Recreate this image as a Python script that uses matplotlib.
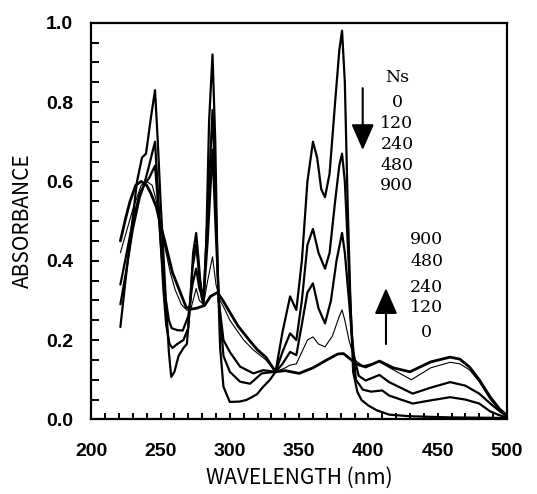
import matplotlib
matplotlib.use('Agg')
import matplotlib.pyplot as plt
from matplotlib.ticker import MultipleLocator

# irradiation times (s)
times = [0, 120, 240, 480, 900]

# spectra: wavelength (nm) / absorbance
wl_0 = [221, 225, 229, 233, 236.6, 239.5, 243, 246, 248, 250, 252, 254, 256, 257.7, 260, 263,
        266.5, 269, 271.5, 273.5, 275.7, 277.5, 279.5, 281, 283, 285, 287.5, 289.5, 291, 293,
        295.4, 300, 307, 312, 319.5, 324, 329, 333, 338, 343.5, 348, 352, 356, 360, 363, 366,
        368.7, 372, 376, 379, 381, 383, 385, 387, 389, 392, 395, 400, 406, 415, 430, 460, 490, 500]
abs_0 = [0.233, 0.36, 0.48, 0.60, 0.66, 0.67, 0.76, 0.83, 0.70, 0.55, 0.42, 0.29, 0.17, 0.107, 0.12, 0.16,
         0.18, 0.19, 0.30, 0.42, 0.47, 0.40, 0.31, 0.29, 0.45, 0.75, 0.92, 0.70, 0.40, 0.18,
         0.082, 0.044, 0.045, 0.049, 0.063, 0.082, 0.10, 0.12, 0.22, 0.31, 0.276, 0.40, 0.60, 0.70, 0.66, 0.58,
         0.56, 0.62, 0.80, 0.93, 0.98, 0.85, 0.55, 0.30, 0.12, 0.07, 0.049, 0.035, 0.023, 0.012, 0.008, 0.005, 0.004, 0.003]

wl_120 = [221, 225, 230, 235, 238, 241, 246, 248, 250, 252, 254, 256.5, 258.6, 262, 266.5, 270,
          273, 275.7, 278, 281, 284, 287.5, 289.5, 292, 295.4, 300, 307.4, 314.6, 323, 333, 338,
          343.5, 348, 352, 356, 360, 364, 368.7, 372, 376, 379, 381, 383, 385, 388, 391, 396, 402,
          410, 415, 432, 445, 459, 470, 480, 488, 495, 500]
abs_120 = [0.29, 0.37, 0.48, 0.56, 0.59, 0.63, 0.70, 0.58, 0.45, 0.33, 0.24, 0.19, 0.18, 0.19, 0.20, 0.23,
           0.38, 0.44, 0.36, 0.30, 0.52, 0.78, 0.58, 0.30, 0.16, 0.12, 0.095, 0.09, 0.116, 0.12, 0.17,
           0.217, 0.20, 0.30, 0.44, 0.48, 0.42, 0.38, 0.42, 0.55, 0.64, 0.67, 0.60, 0.45, 0.22, 0.10, 0.075, 0.07,
           0.073, 0.06, 0.04, 0.048, 0.056, 0.05, 0.04, 0.02, 0.01, 0.005]

wl_240 = [221, 225, 230, 235, 238, 242, 246, 248, 250, 253, 256, 258, 262, 266, 270, 273, 275.7,
          278, 281, 284, 287.5, 289.5, 292, 295.4, 300, 307.4, 317, 324, 333, 338, 343.5, 348, 352,
          356, 360, 364, 368.7, 373, 377, 381, 383, 386, 389, 393, 398, 408, 415, 432, 445, 459,
          470, 480, 488, 495, 500]
abs_240 = [0.34, 0.41, 0.50, 0.57, 0.59, 0.61, 0.64, 0.55, 0.45, 0.32, 0.25, 0.23, 0.225, 0.224, 0.26, 0.34, 0.38,
           0.33, 0.30, 0.45, 0.68, 0.50, 0.30, 0.20, 0.17, 0.133, 0.116, 0.124, 0.12, 0.14, 0.17, 0.162, 0.24,
           0.32, 0.343, 0.28, 0.242, 0.30, 0.40, 0.47, 0.42, 0.30, 0.17, 0.11, 0.098, 0.112, 0.094, 0.065, 0.08, 0.094,
           0.085, 0.065, 0.04, 0.02, 0.008]

wl_480 = [221, 230, 236, 240, 244, 247, 250, 253.4, 257, 260.6, 265, 269, 272, 275.7, 278, 281, 284,
          287.5, 290, 293, 296, 300, 310, 317, 326, 333, 340, 343.5, 348, 352, 356, 360, 364, 368.7,
          374, 379, 381, 383, 386, 390, 396, 408, 418, 431, 445, 459, 466, 473, 480, 488, 495, 500]
abs_480 = [0.42, 0.53, 0.59, 0.60, 0.59, 0.55, 0.49, 0.43, 0.37, 0.326, 0.29, 0.275, 0.28, 0.33, 0.30, 0.29, 0.35,
           0.41, 0.34, 0.30, 0.28, 0.25, 0.20, 0.175, 0.15, 0.12, 0.13, 0.137, 0.14, 0.17, 0.20, 0.208, 0.19, 0.183,
           0.21, 0.26, 0.276, 0.25, 0.20, 0.15, 0.135, 0.145, 0.125, 0.10, 0.13, 0.144, 0.14, 0.125, 0.095, 0.05, 0.022, 0.01]

wl_900 = [221, 225, 228, 232, 236, 240, 243, 247, 250, 253, 258.6, 262, 268.4, 272, 275.7, 281.7, 286,
          291, 295, 300, 306, 314, 320, 326, 333, 340, 350, 360, 370, 378, 382, 386, 391, 398, 408,
          418, 430, 445, 459, 466, 473, 480, 488, 495, 500]
abs_900 = [0.45, 0.51, 0.55, 0.59, 0.60, 0.59, 0.57, 0.535, 0.49, 0.45, 0.37, 0.34, 0.283, 0.278, 0.28, 0.287, 0.31,
           0.32, 0.30, 0.27, 0.235, 0.20, 0.175, 0.157, 0.12, 0.123, 0.116, 0.13, 0.15, 0.165, 0.166, 0.155, 0.14, 0.132, 0.147,
           0.13, 0.12, 0.145, 0.157, 0.152, 0.132, 0.10, 0.056, 0.025, 0.01]

series = [(wl_0, abs_0, 1.6), (wl_120, abs_120, 1.6), (wl_240, abs_240, 1.6),
          (wl_480, abs_480, 0.8), (wl_900, abs_900, 2.0)]

fig = plt.figure(figsize=(5.37, 4.94), dpi=100)
ax = fig.add_axes([0.170, 0.151, 0.774, 0.803])

for wl, a, lw in series:
    ax.plot(wl, a, color='black', lw=lw, solid_joinstyle='round', solid_capstyle='round')

ax.set_xlim(200, 500)
ax.set_ylim(0, 1.0)
ax.xaxis.set_major_locator(MultipleLocator(50))
ax.xaxis.set_minor_locator(MultipleLocator(10))
ax.yaxis.set_major_locator(MultipleLocator(0.2))
ax.yaxis.set_minor_locator(MultipleLocator(0.05))
ax.yaxis.set_major_formatter(plt.FuncFormatter(lambda v, p: '%.1f' % v))
ax.tick_params(which='both', direction='in', top=False, right=False, width=1.4)
ax.tick_params(axis='y', which='both', length=6)
ax.tick_params(axis='x', which='both', length=4.5)
ax.tick_params(axis='x', which='major', pad=17)
ax.tick_params(axis='y', which='major', pad=13)
for lab in ax.get_xticklabels() + ax.get_yticklabels():
    lab.set_family('Liberation Sans')
    lab.set_fontsize(14)
    lab.set_fontweight('bold')
for s in ax.spines.values():
    s.set_linewidth(1.6)

lab_font = ['Noto Sans CJK JP', 'DejaVu Sans']
ax.set_xlabel('WAVELENGTH (nm)', family=lab_font, fontsize=15, labelpad=5)
ax.set_ylabel('ABSORBANCE', family=lab_font, fontsize=15, labelpad=9)

# legend-like annotations
serif = 'DejaVu Serif'
ax.text(420.6, 0.861, 'Ns', family=serif, fontsize=12.5, ha='center', va='center')
for t, y in zip(times, [0.80, 0.745, 0.694, 0.641, 0.59]):
    ax.text(420.6, y, str(t), family=serif, fontsize=12.5, ha='center', va='center')
for t, y in zip(times, [0.218, 0.281, 0.333, 0.397, 0.454]):
    ax.text(442.2, y, str(t), family=serif, fontsize=12.5, ha='center', va='center')

head = '-|>,head_length=1.6,head_width=0.7'
ax.annotate('', xy=(395.9, 0.679), xytext=(395.9, 0.835),
            arrowprops=dict(arrowstyle=head, color='black', lw=1.5, shrinkA=0, shrinkB=0))
ax.annotate('', xy=(412.7, 0.331), xytext=(412.7, 0.19),
            arrowprops=dict(arrowstyle=head, color='black', lw=1.5, shrinkA=0, shrinkB=0))

fig.savefig('out.png', dpi=100)
